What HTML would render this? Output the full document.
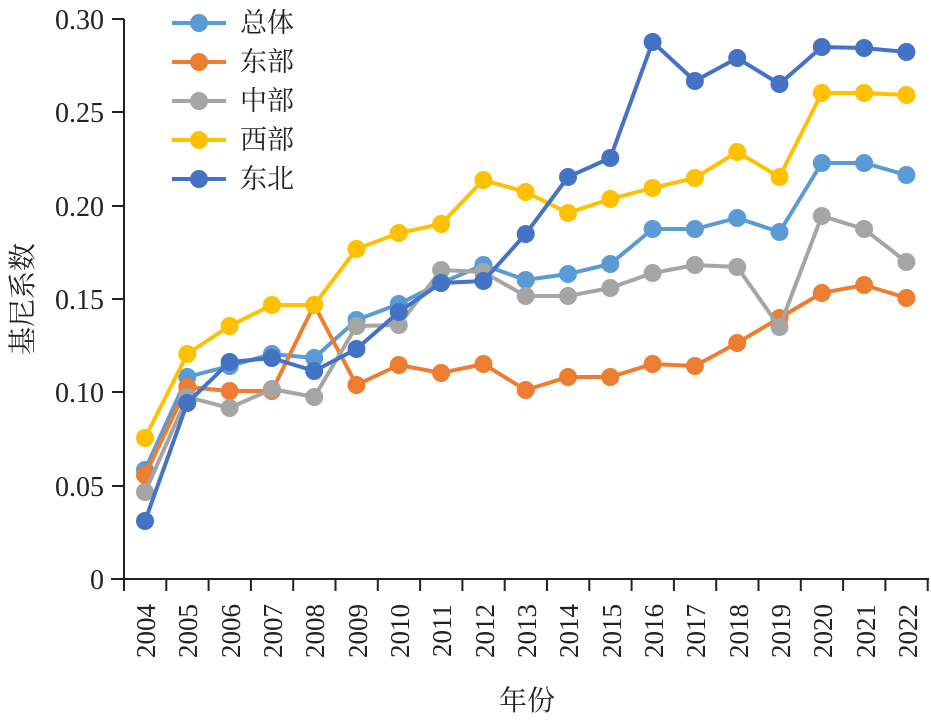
<!DOCTYPE html>
<html><head><meta charset="utf-8"><style>
html,body{margin:0;padding:0;background:#fff;}
text{font-family:"Liberation Serif","Times New Roman",Times,"Noto Serif CJK SC",serif;fill:#222;}
</style></head><body>
<svg id="c" width="931" height="721" xmlns="http://www.w3.org/2000/svg" font-family="Liberation Serif, Times New Roman, Noto Serif CJK SC, serif">
<g stroke="#222" stroke-width="2" fill="none">
<line x1="124" y1="19" x2="124" y2="579"/>
<line x1="111" y1="579" x2="929" y2="579"/>
<line x1="112" y1="19" x2="124" y2="19"/>
<line x1="112" y1="112" x2="124" y2="112"/>
<line x1="112" y1="206" x2="124" y2="206"/>
<line x1="112" y1="299" x2="124" y2="299"/>
<line x1="112" y1="392" x2="124" y2="392"/>
<line x1="112" y1="486" x2="124" y2="486"/>
</g>
<g id="xt" stroke="#222" stroke-width="2"></g>
<g font-size="28" text-anchor="end">
<text x="104" y="29">0.30</text>
<text x="104" y="122">0.25</text>
<text x="104" y="216">0.20</text>
<text x="104" y="309">0.15</text>
<text x="104" y="402">0.10</text>
<text x="104" y="496">0.05</text>
<text x="104" y="589">0</text>
</g>
<g font-size="27" text-anchor="end">
<text transform="translate(155,604) rotate(-90)">2004</text>
<text transform="translate(197,604) rotate(-90)">2005</text>
<text transform="translate(240,604) rotate(-90)">2006</text>
<text transform="translate(282,604) rotate(-90)">2007</text>
<text transform="translate(324,604) rotate(-90)">2008</text>
<text transform="translate(367,604) rotate(-90)">2009</text>
<text transform="translate(409,604) rotate(-90)">2010</text>
<text transform="translate(451,604) rotate(-90)">2011</text>
<text transform="translate(494,604) rotate(-90)">2012</text>
<text transform="translate(536,604) rotate(-90)">2013</text>
<text transform="translate(578,604) rotate(-90)">2014</text>
<text transform="translate(621,604) rotate(-90)">2015</text>
<text transform="translate(663,604) rotate(-90)">2016</text>
<text transform="translate(705,604) rotate(-90)">2017</text>
<text transform="translate(748,604) rotate(-90)">2018</text>
<text transform="translate(790,604) rotate(-90)">2019</text>
<text transform="translate(832,604) rotate(-90)">2020</text>
<text transform="translate(875,604) rotate(-90)">2021</text>
<text transform="translate(917,604) rotate(-90)">2022</text>
</g>
<text x="527" y="710" font-size="28" text-anchor="middle">年份</text>
<text transform="translate(32,299) rotate(-90)" font-size="28" text-anchor="middle">基尼系数</text>
<g id="series"></g>
<g font-size="27">
<line x1="172" y1="23" x2="226" y2="23" stroke="#5B9BD5" stroke-width="4"/><circle cx="199" cy="23" r="9" fill="#5B9BD5"/><text x="240" y="32">总体</text>
<line x1="172" y1="62" x2="226" y2="62" stroke="#ED7D31" stroke-width="4"/><circle cx="199" cy="62" r="9" fill="#ED7D31"/><text x="240" y="71">东部</text>
<line x1="172" y1="101" x2="226" y2="101" stroke="#A5A5A5" stroke-width="4"/><circle cx="199" cy="101" r="9" fill="#A5A5A5"/><text x="240" y="110">中部</text>
<line x1="172" y1="140" x2="226" y2="140" stroke="#FFC000" stroke-width="4"/><circle cx="199" cy="140" r="9" fill="#FFC000"/><text x="240" y="149">西部</text>
<line x1="172" y1="179" x2="226" y2="179" stroke="#4472C4" stroke-width="4"/><circle cx="199" cy="179" r="9" fill="#4472C4"/><text x="240" y="188">东北</text>
</g>
</svg>
<script>
var NS="http://www.w3.org/2000/svg";
var xt=document.getElementById("xt");
for(var k=0;k<=19;k++){var l=document.createElementNS(NS,"line");var x=124+42.3*k;l.setAttribute("x1",x);l.setAttribute("x2",x);l.setAttribute("y1",579);l.setAttribute("y2",591);xt.appendChild(l);}
var S=[["#5B9BD5",[470,377,366,354,358,320,304,283,265,280,274,264,229,229,218,232,163,163,175]],
["#ED7D31",[475,387,391,391,305,385,365,373,364,390,377,377,364,366,343,318,293,285,298]],
["#A5A5A5",[492,397,408,389,397,326,325,270,272,296,296,288,273,265,267,327,216,229,262]],
["#FFC000",[438,354,326,305,305,249,233,224,180,192,213,199,188,178,152,177,93,93,95]],
["#4472C4",[521,403,362,358,371,349,312,283,281,234,177,158,42,81,58,84,47,48,52]]];
var g=document.getElementById("series");
S.forEach(function(s){var pts=s[1].map(function(y,i){return (145+42.3*i)+","+y;}).join(" ");
var p=document.createElementNS(NS,"polyline");p.setAttribute("points",pts);p.setAttribute("fill","none");p.setAttribute("stroke",s[0]);p.setAttribute("stroke-width","4");g.appendChild(p);
s[1].forEach(function(y,i){var c=document.createElementNS(NS,"circle");c.setAttribute("cx",145+42.3*i);c.setAttribute("cy",y);c.setAttribute("r",9);c.setAttribute("fill",s[0]);g.appendChild(c);});});
</script>
</body></html>
